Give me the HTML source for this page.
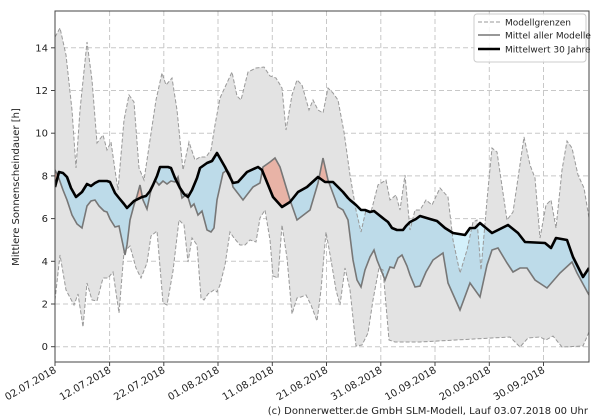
<!DOCTYPE html>
<html><head><meta charset="utf-8"><style>
body{margin:0;background:#fff;}
svg{display:block;font-family:"DejaVu Sans","Liberation Sans",sans-serif;}
</style></head><body>
<svg id="s" width="600" height="420" viewBox="0 0 600 420" xmlns="http://www.w3.org/2000/svg"></svg>
<script>
const up=[[55,37],[60,28],[66,55],[72,110],[76,168],[80,110],[87,42],[92,80],[97,143],[103,135],[107,150],[111,142],[115,170],[118,190],[124,120],[129,95],[134,102],[139,168],[144,180],[150,140],[156,100],[162,73],[166,85],[172,78],[177,110],[183,170],[189,142],[195,160],[200,157],[206,157],[211,150],[215,125],[220,98],[226,85],[232,72],[237,96],[241,100],[248,72],[256,68],[264,67],[270,76],[276,78],[282,88],[286,130],[292,95],[297,80],[302,85],[309,110],[313,100],[318,110],[323,113],[328,88],[333,93],[338,100],[344,132],[350,175],[356,210],[361,232],[366,210],[371,212],[378,185],[386,180],[390,200],[396,195],[400,210],[405,175],[410,230],[415,210],[420,210],[426,200],[432,205],[440,188],[448,197],[453,240],[460,273],[467,250],[473,222],[477,220],[481,270],[487,200],[492,148],[497,152],[507,220],[513,212],[517,185],[524,137],[530,165],[535,178],[540,238],[546,205],[551,200],[556,228],[562,170],[567,141],[572,148],[578,175],[584,188],[589,218]];
const lo=[[55,300],[60,255],[66,290],[74,305],[78,294],[83,327],[87,283],[92,300],[97,301],[103,278],[108,278],[113,272],[119,313],[124,252],[130,246],[136,268],[141,278],[147,263],[151,236],[157,231],[163,303],[167,305],[173,271],[179,220],[184,225],[188,262],[192,238],[197,245],[201,298],[204,300],[208,294],[214,290],[217,292],[220,285],[225,265],[230,232],[234,238],[240,245],[245,245],[250,240],[256,242],[260,218],[265,210],[270,240],[273,276],[278,278],[282,225],[287,258],[292,314],[297,298],[301,297],[306,295],[311,305],[317,321],[321,290],[326,232],[331,260],[336,290],[340,305],[345,268],[350,290],[356,346],[362,345],[368,333],[373,300],[379,268],[383,270],[389,340],[395,342],[420,342],[510,337],[520,347],[528,338],[540,337],[546,340],[553,336],[562,347],[583,346],[589,332]];
const mn=[[55,170],[58,176],[63,190],[67,200],[72,215],[77,224],[82,228],[87,206],[91,201],[95,200],[99,206],[104,211],[107,212],[110,219],[115,227],[119,226],[123,245],[125,255],[127,245],[130,220],[134,205],[137,196],[140,185],[143,200],[147,209],[151,190],[155,180],[159,185],[163,181],[167,184],[171,181],[175,182],[178,177],[182,198],[187,194],[191,207],[194,204],[198,215],[202,211],[207,230],[211,232],[214,228],[217,200],[223,173],[227,170],[230,174],[233,187],[243,200],[253,187],[260,183],[263,167],[270,162],[275,158],[280,167],[290,200],[297,220],[310,210],[318,183],[323,158],[328,180],[338,207],[343,210],[348,220],[353,260],[357,280],[361,287],[365,270],[370,257],[374,250],[377,260],[381,270],[385,280],[390,267],[394,268],[398,258],[402,255],[407,266],[410,275],[415,287],[420,286],[426,272],[433,260],[443,253],[448,283],[460,310],[470,283],[480,297],[487,265],[492,250],[498,248],[507,263],[513,272],[520,268],[527,268],[535,280],[547,288],[560,273],[572,262],[577,273],[589,295]];
const bk=[[55,187],[59,172],[63,173],[67,177],[71,188],[76,197],[82,192],[87,184],[91,186],[95,183],[99,181],[102,181],[107,181],[110,182],[115,193],[119,198],[124,204],[127,208],[130,205],[134,201],[138,199],[142,197],[146,196],[150,191],[153,185],[157,176],[160,167],[164,167],[168,167],[171,168],[175,178],[180,188],[184,194],[188,197],[192,190],[197,178],[200,168],[207,163],[212,161],[217,153],[225,167],[233,183],[238,182],[247,172],[258,167],[262,170],[273,197],[282,207],[290,202],[298,192],[307,187],[318,177],[325,182],[333,182],[343,192],[348,198],[350,200],[356,205],[361,210],[365,210],[370,212],[374,211],[379,215],[384,219],[388,222],[392,228],[397,230],[403,230],[406,226],[410,222],[416,219],[420,216],[430,219],[437,221],[445,228],[453,233],[465,235],[470,228],[475,228],[480,223],[486,228],[492,233],[500,229],[508,225],[518,233],[525,242],[545,243],[551,248],[556,238],[567,240],[573,257],[583,277],[589,268]];
const P=a=>a.map(p=>p.join(',')).join(' ');
const R=a=>a.slice().reverse();
let h='<defs><clipPath id="pl"><rect x="55" y="11" width="534" height="351"/></clipPath>';
h+='<clipPath id="ab"><polygon points="'+P([[55,0]].concat(bk,[[589,0]]))+'"/></clipPath>';
h+='<clipPath id="be"><polygon points="'+P([[55,420]].concat(bk,[[589,420]]))+'"/></clipPath></defs>';
const yt=[0,2,4,6,8,10,12,14];
let g='';
yt.forEach(v=>{const y=346.7-v*21.35;g+=`<line x1="55" x2="589" y1="${y}" y2="${y}" stroke="#c8c8c8" stroke-dasharray="5,3" stroke-width="1"/>`;});
const xs=[55,109.6,163.8,218,272.3,326.5,380.8,435,489.3,543.5];
xs.forEach(x=>{g+=`<line x1="${x}" x2="${x}" y1="11" y2="362" stroke="#c8c8c8" stroke-dasharray="5,3" stroke-width="1"/>`;});
h+=g;
h+='<g clip-path="url(#pl)">';
h+='<polygon points="'+P(up.concat(R(lo)))+'" fill="#e3e3e3"/>';
h+='<polygon points="'+P(bk.concat(R(mn)))+'" fill="#bddbe9"/>';
h+='<polygon clip-path="url(#ab)" points="'+P(bk.concat(R(mn)))+'" fill="#e8b3a6"/>';
h+='<g clip-path="url(#be)"><polygon points="'+P(bk.concat(R(up)))+'" fill="#d3f0fb"/></g>';
h+='<polyline points="'+P(up)+'" fill="none" stroke="#999" stroke-width="1" stroke-dasharray="4,2"/>';
h+='<polyline points="'+P(lo)+'" fill="none" stroke="#999" stroke-width="1" stroke-dasharray="4,2"/>';
h+='<polyline points="'+P(mn)+'" fill="none" stroke="#777" stroke-width="1.6"/>';
h+='<polyline points="'+P(bk)+'" fill="none" stroke="#000" stroke-width="2.6" stroke-linejoin="round"/>';
h+='</g>';
h+='<rect x="55" y="11" width="534" height="351" fill="none" stroke="#444" stroke-width="1"/>';
yt.forEach(v=>{const y=346.7-v*21.35;h+=`<line x1="51" x2="55" y1="${y}" y2="${y}" stroke="#444"/><text x="48" y="${y+3.5}" font-size="10" text-anchor="end" fill="#222">${v}</text>`;});
const lbl=['02.07.2018','12.07.2018','22.07.2018','01.08.2018','11.08.2018','21.08.2018','31.08.2018','10.09.2018','20.09.2018','30.09.2018'];
xs.forEach((x,i)=>{h+=`<line x1="${x}" x2="${x}" y1="362" y2="366" stroke="#444"/><text transform="translate(${x+2},372) rotate(-30)" font-size="10" text-anchor="end" fill="#222">${lbl[i]}</text>`;});
h+='<text transform="translate(19,187) rotate(-90)" font-size="10" text-anchor="middle" fill="#222">Mittlere Sonnenscheindauer [h]</text>';
h+='<text x="588" y="414" font-size="10" text-anchor="end" fill="#222">(c) Donnerwetter.de GmbH SLM-Modell, Lauf 03.07.2018 00 Uhr</text>';
h+='<rect x="474" y="14" width="112" height="48" rx="3" fill="#fff" fill-opacity="0.85" stroke="#ccc"/>';
h+='<line x1="478" x2="500" y1="22" y2="22" stroke="#999" stroke-dasharray="4,2"/><text x="505" y="25.5" font-size="9" fill="#222">Modellgrenzen</text>';
h+='<line x1="478" x2="500" y1="35" y2="35" stroke="#777" stroke-width="1.6"/><text x="505" y="38.5" font-size="9" fill="#222">Mittel aller Modelle</text>';
h+='<line x1="478" x2="500" y1="49" y2="49" stroke="#000" stroke-width="2.6"/><text x="505" y="52.5" font-size="9" fill="#222">Mittelwert 30 Jahre</text>';
document.getElementById('s').innerHTML=h;
</script>
</body></html>
